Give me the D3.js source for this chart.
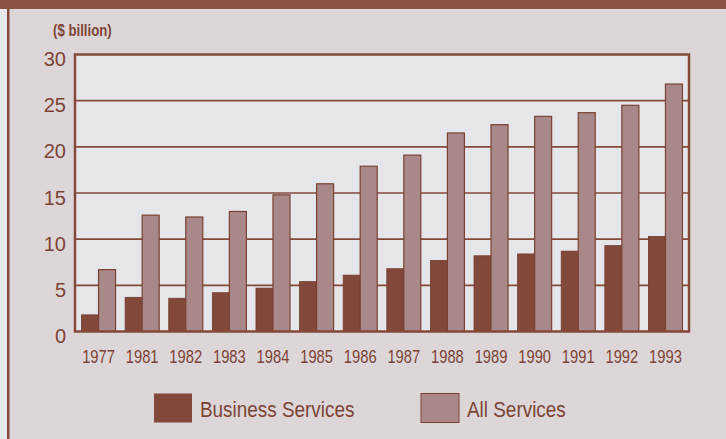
<!DOCTYPE html>
<html><head><meta charset="utf-8">
<script src="https://cdn.jsdelivr.net/npm/d3@7"></script>
<style>
html,body{margin:0;padding:0;background:#e6e8eb;}
svg{display:block;}
</style></head>
<body>
<svg id="c" width="726" height="439"></svg>
<script>
const years = ["1977","1981","1982","1983","1984","1985","1986","1987","1988","1989","1990","1991","1992","1993"];
const business = [1.8,3.7,3.6,4.2,4.7,5.4,6.1,6.8,7.7,8.2,8.4,8.7,9.3,10.3];
const allServices = [6.7,12.6,12.4,13.0,14.8,16.0,17.9,19.1,21.5,22.4,23.3,23.7,24.5,26.8];
const yTicks = [0,5,10,15,20,25,30];
const seriesNames = ["Business Services","All Services"];

const brown = "#85493a", text = "#7c4436";
const darkCol = "#82493a", lightCol = "#a9888a";
const font = "'Liberation Sans',Arial,sans-serif";

const svg = d3.select("#c");
// panel
svg.append("rect").attr("x",0).attr("y",0).attr("width",726).attr("height",439).attr("fill","#e6e8eb");
svg.append("rect").attr("x",8).attr("y",0).attr("width",718).attr("height",439).attr("fill","#ddd6d8");
svg.append("rect").attr("x",7).attr("y",0).attr("width",2.5).attr("height",439).attr("fill",brown);
svg.append("rect").attr("x",0).attr("y",0).attr("width",726).attr("height",9).attr("fill","#8a5344");

const L=75, R=689, T=54.5, B=331.5;
const x = d3.scaleBand().domain(years).range([L,R]).paddingInner(0.22).paddingOuter(0.15);
const y = d3.scaleLinear().domain([0,30]).range([B,T]);

svg.append("rect").attr("x",L).attr("y",T).attr("width",R-L).attr("height",B-T).attr("fill","#e4e6ea");

// gridlines
svg.append("g").selectAll("line").data(yTicks.filter(d=>d>0&&d<30)).join("line")
  .attr("x1",L).attr("x2",R).attr("y1",d=>y(d)).attr("y2",d=>y(d))
  .attr("stroke",brown).attr("stroke-width",1.6);

const bw = x.bandwidth()/2;
const g = svg.append("g");
g.selectAll("rect.b").data(years).join("rect").attr("class","b")
  .attr("x",d=>x(d)).attr("width",bw)
  .attr("y",(d,i)=>y(business[i])).attr("height",(d,i)=>y(0)-y(business[i]))
  .attr("fill",darkCol).attr("stroke","#74392b").attr("stroke-width",0.8);
g.selectAll("rect.a").data(years).join("rect").attr("class","a")
  .attr("x",d=>x(d)+bw).attr("width",bw)
  .attr("y",(d,i)=>y(allServices[i])).attr("height",(d,i)=>y(0)-y(allServices[i]))
  .attr("fill",lightCol).attr("stroke","#7a4132").attr("stroke-width",1.2);

// frame
svg.append("rect").attr("x",L).attr("y",T).attr("width",R-L).attr("height",B-T)
  .attr("fill","none").attr("stroke",brown).attr("stroke-width",2.5);

// y axis labels
const yAxis = d3.axisLeft(y).tickValues(yTicks).tickSize(0).tickPadding(9);
const ya = svg.append("g").attr("transform",`translate(${L},0)`).call(yAxis);
ya.select(".domain").remove();
ya.selectAll("text").attr("fill",text).attr("font-family",font)
  .attr("font-size",20).attr("dy","0.55em");

// x axis labels (condensed)
const xAxis = d3.axisBottom(x).tickSize(0).tickPadding(0);
const xa = svg.append("g").attr("transform",`translate(0,${B})`).call(xAxis);
xa.select(".domain").remove();
xa.selectAll("text").attr("fill",text).attr("font-family",font).attr("font-size",18)
  .attr("y",0).attr("dy",0).attr("transform","translate(0,31.5) scale(0.82,1)");

// unit label
svg.append("text").attr("transform","translate(53,36) scale(0.8,1)").text("($ billion)")
  .attr("fill",text).attr("font-family",font).attr("font-weight","bold").attr("font-size",16.5);

// legend
const legX = [154,421];
const leg = svg.append("g");
seriesNames.forEach((n,i)=>{
  leg.append("rect").attr("x",legX[i]).attr("y",393.5).attr("width",38).attr("height",29)
    .attr("fill",i===0?darkCol:lightCol).attr("stroke",i===0?"none":"#7a4132").attr("stroke-width",1);
  leg.append("text").attr("transform",`translate(${legX[i]+46},417) scale(0.86,1)`).text(n)
    .attr("fill",text).attr("font-family",font).attr("font-size",22);
});
</script>
</body></html>
